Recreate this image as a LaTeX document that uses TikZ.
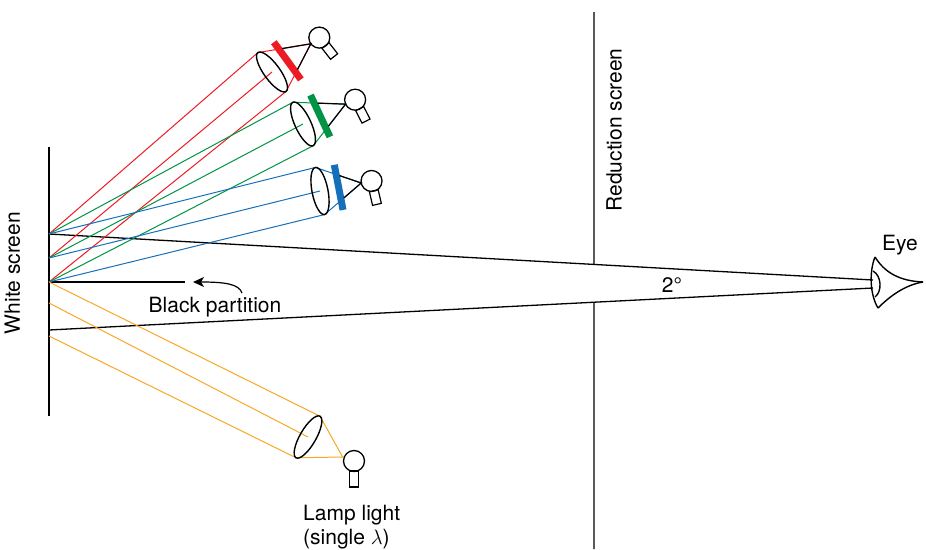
\documentclass[tikz,border=0pt]{standalone}
\usepackage{fontspec}
\setmainfont{TeX Gyre Heros}
\usepackage{tikz}
\usetikzlibrary{arrows.meta,calc}

\definecolor{lred}{RGB}{237,28,36}
\definecolor{lgreen}{RGB}{0,148,68}
\definecolor{lblue}{RGB}{21,112,185}
\definecolor{lorange}{RGB}{247,168,36}

\begin{document}
\begin{tikzpicture}[
			x=1pt, y=-1pt,
			font=\fontsize{21}{24}\selectfont,
			screen/.style={line width=1.3pt},
			sight/.style={line width=1.3pt},
			ray/.style={line width=1pt},
			lens/.style={line width=1.4pt},
			cone/.style={line width=1.2pt},
			filter/.style={line width=7pt},
			bulb/.style={circle, draw, line width=1.3pt, minimum size=21pt, inner sep=0pt},
			socket/.style={rectangle, draw, line width=1.2pt, minimum width=9pt, minimum height=14pt, inner sep=0pt},
			arr/.style={-{Stealth[length=11pt,width=10pt,inset=3pt]}, line width=1.2pt}
			]
			\useasboundingbox (0,0) rectangle (926,549);

			% white screen and the points on it
			\coordinate (ws1) at (49,147);
			\coordinate (ws2) at (49,416);
			\coordinate (pa) at (49,234);
			\coordinate (pb) at (49,258);
			\coordinate (pc) at (49,282);
			\coordinate (pd) at (49,303);
			\coordinate (pe) at (49,330);
			\coordinate (pf) at (49,336);
			\draw[screen] (ws1) -- (ws2);

			% eye
			\coordinate (eyeup) at (873,280);
			\coordinate (eyelow) at (873,288);
			\draw[lens] (875,257) .. controls (869,272) and (870,295) .. (878,308);
			\draw[lens] (875,257) .. controls (885,273) and (900,281) .. (923,282);
			\draw[lens] (878,308) .. controls (890,296) and (905,285) .. (923,282);
			\draw[lens] (873,271) .. controls (882,276) and (882,292) .. (875,297);

			% lines of sight and the reduction screen
			\draw[sight] (pa) -- (eyeup);
			\draw[sight] (pe) -- (eyelow);
			\coordinate (rs1) at (594,12);
			\coordinate (rs2) at (594,549);
			\draw[screen] (rs1) -- (intersection of rs1--rs2 and pa--eyeup);
			\draw[screen] (intersection of rs1--rs2 and pe--eyelow) -- (rs2);

			% black partition
			\coordinate (bptip) at (193,282);
			\coordinate (bptail) at (242,293);
			\draw[screen] (pc) -- (185,282);
			\draw[arr] (bptail) .. controls (239,284) and (225,282) .. (bptip);

			% coloured lamps with filters
			\foreach \n/\col/\lx/\ly/\ang/\fd/\sd in {r/lred/272/72/36/48/-52, g/lgreen/303/124/25/47/-63, b/lblue/320/191/11/42/-77}{
				\pgfmathsetmacro\bd{\fd+10.5}
				\pgfmathsetmacro\tb{22/\fd}
				\coordinate (\n lens) at (\lx,\ly);
				\coordinate (\n top) at ($(\n lens)+(\ang+90:24pt)$);
				\coordinate (\n bot) at ($(\n lens)+(\ang-90:24pt)$);
				\coordinate (\n focus) at ($(\n lens)+(\ang:\fd pt)$);
				\coordinate (\n bar) at ($(\n lens)+(\ang:19pt)$);
				\node[bulb] (\n bulb) at ($(\n lens)+(\ang:\bd pt)$) {};
				\node[socket, rotate=\sd+90] (\n socket) at ($(\n bulb)+(\sd:17pt)$) {};
				\draw[ray, \col] (pa) -- (\n top) -- (\n focus) -- (\n bot) -- (pc);
				\draw[ray, \col] (pb) -- (\n lens);
				\draw[lens, rotate around={\ang:(\n lens)}] (\n lens) ellipse [x radius=8, y radius=24];
				\draw[filter, \col] ($(\n bar)+(\ang+90:23pt)$) -- ($(\n bar)+(\ang-90:23pt)$);
				\draw[cone] ($(\n top)!\tb!(\n focus)$) -- (\n focus) -- ($(\n bot)!\tb!(\n focus)$);
			}

			% single wavelength lamp
			\coordinate (olens) at (308,437);
			\coordinate (otop) at ($(olens)+(60:24pt)$);
			\coordinate (obot) at ($(olens)+(-120:24pt)$);
			\coordinate (ofocus) at ($(olens)+(-30:40pt)$);
			\node[bulb] (obulb) at (354,461) {};
			\node[socket, minimum height=16pt] (osocket) at (354,479) {};
			\draw[ray, lorange] (pc) -- (otop) -- (ofocus) -- (obot) -- (pf);
			\draw[ray, lorange] (pd) -- (olens);
			\draw[lens, rotate around={-30:(olens)}] (olens) ellipse [x radius=8, y radius=24];

			\node[rotate=90] (wslabel) at (12.5,273) {White screen};
			\node[rotate=90] (rslabel) at (614,130) {Reduction screen};
			\node[anchor=base] (bplabel) at (215,312) {Black partition};
			\node[anchor=base] (eyelabel) at (900,250) {Eye};
			\node[anchor=base] (anglabel) at (672,292) {2°};
			\node[anchor=north west, align=left, inner sep=0pt] (lamplabel) at (303,505) {Lamp light\\(single $\lambda$)};
		\end{tikzpicture}
\end{document}
